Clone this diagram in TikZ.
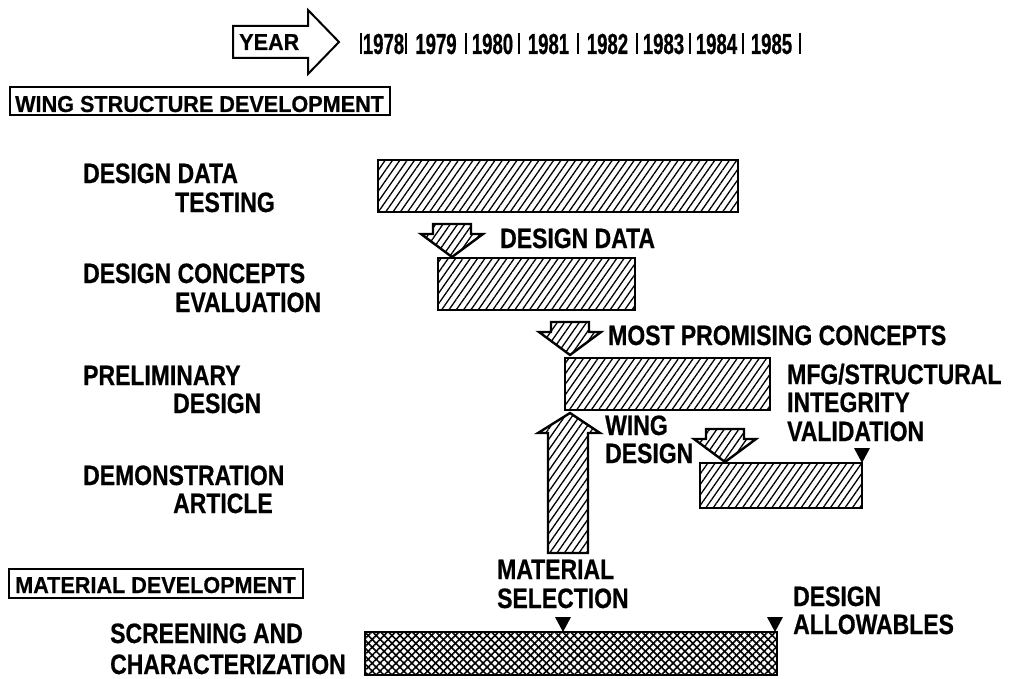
\documentclass[tikz,border=0pt]{standalone}
\usepackage{fontspec}
\setmainfont{Liberation Sans}[FakeStretch=0.82, FakeBold=0.6]
\newfontfamily\hdrfont{Liberation Sans}[FakeStretch=0.94, FakeBold=0.5]
\newfontfamily\yrfont{Liberation Sans}[FakeStretch=0.64, FakeBold=0.6]
\usetikzlibrary{patterns.meta}
\tikzset{
  lbl/.style={anchor=base west, inner sep=0pt, font=\fontsize{28}{32}\selectfont\bfseries},
  hdr/.style={anchor=base west, inner sep=0pt, font=\hdrfont\fontsize{23}{27}\selectfont\bfseries},
  yr/.style={anchor=base, inner sep=0pt, font=\yrfont\fontsize{29}{32}\selectfont\bfseries},
  hbox/.style={draw, line width=1.6pt},
  hatchfill/.style={pattern={Lines[angle=55,distance=6pt,line width=1.3pt]}},
  bar/.style={draw, line width=2.4pt, hatchfill, inner sep=0pt, outer sep=0pt, anchor=north west},
  xbar/.style={draw, line width=2.4pt, inner sep=0pt, outer sep=0pt, anchor=north west,
     postaction={pattern={Lines[angle=45,distance=5.6pt,line width=1.6pt]}},
     postaction={pattern={Lines[angle=-45,distance=5.6pt,line width=1.6pt]}}},
  blk/.style={draw, line width=2.4pt, line join=miter, hatchfill},
  sep/.style={line width=1.5pt}
}
\newcommand\dnarrow[2]{%
  \draw[blk] (#1,#2) -- +(-31,-23) -- +(-19,-23) -- +(-19,-33) -- +(19,-33)
     -- +(19,-23) -- +(31,-23) -- cycle;}
\newcommand\tri[2]{\fill (#1,#2) -- +(-8,-15) -- +(8,-15) -- cycle;}
\begin{document}
\begin{tikzpicture}[x=1pt,y=-1pt]
\useasboundingbox (0,0) rectangle (1011,679);

% YEAR arrow and year scale
\draw[line width=2pt, line join=miter] (233,26) -- (308,26) -- (308,10) -- (339,42)
   -- (308,74) -- (308,58) -- (233,58) -- cycle;
\node[hdr] (year) at (239,50) {YEAR};
\foreach \a in {361,406,466,519,578,637,690,743,800}
  \draw[sep] (\a,33) -- (\a,54);
\foreach \a/\b/\y in {361/406/1978,406/466/1979,466/519/1980,519/578/1981,578/637/1982,637/690/1983,690/743/1984,743/800/1985}
  \node[yr] (y\y) at ({(\a+\b)/2},54) {\y};

% section headers
\draw[hbox] (10,87) rectangle (390,115);
\node[hdr] (wsd) at (15,112) {WING STRUCTURE DEVELOPMENT};
\draw[hbox] (9,569) rectangle (303,598);
\node[hdr] (md) at (15,593) {MATERIAL DEVELOPMENT};

% left labels
\node[lbl] (l1a) at (83,183) {DESIGN DATA};
\node[lbl] (l1b) at (175,212) {TESTING};
\node[lbl] (l2a) at (83,283) {DESIGN CONCEPTS};
\node[lbl] (l2b) at (175,312) {EVALUATION};
\node[lbl] (l3a) at (83,385) {PRELIMINARY};
\node[lbl] (l3b) at (173,413) {DESIGN};
\node[lbl] (l4a) at (83,485) {DEMONSTRATION};
\node[lbl] (l4b) at (173,513) {ARTICLE};
\node[lbl] (l5a) at (110,643) {SCREENING AND};
\node[lbl] (l5b) at (110,674) {CHARACTERIZATION};

% bars
\node[bar, minimum width=360pt, minimum height=52pt] (b1) at (378,160) {};
\node[bar, minimum width=197pt, minimum height=52pt] (b2) at (438,258) {};
\node[bar, minimum width=205pt, minimum height=52pt] (b3) at (565,358) {};
\node[bar, minimum width=162pt, minimum height=45pt] (b4) at (700,463) {};
\node[xbar, minimum width=412pt, minimum height=43pt] (b5) at (365,632) {};

% block arrows
\dnarrow{452}{257}
\dnarrow{570}{355}
\dnarrow{725}{462}
\draw[blk] (570,413) -- (600,433) -- (588,433) -- (588,553) -- (548,553)
   -- (548,433) -- (538,433) -- cycle;

% milestone triangles
\tri{862}{463}
\tri{563}{632}
\tri{775}{632}

% right-side labels
\node[lbl] (t1) at (500,248) {DESIGN DATA};
\node[lbl] (t2) at (608,345) {MOST PROMISING CONCEPTS};
\node[lbl] (t3a) at (787,384) {MFG/STRUCTURAL};
\node[lbl] (t3b) at (787,412) {INTEGRITY};
\node[lbl] (t3c) at (787,441) {VALIDATION};
\node[lbl] (t4a) at (605,435) {WING};
\node[lbl] (t4b) at (605,463) {DESIGN};
\node[lbl] (t5a) at (497,579) {MATERIAL};
\node[lbl] (t5b) at (497,608) {SELECTION};
\node[lbl] (t6a) at (793,606) {DESIGN};
\node[lbl] (t6b) at (793,634) {ALLOWABLES};
\end{tikzpicture}
\end{document}
